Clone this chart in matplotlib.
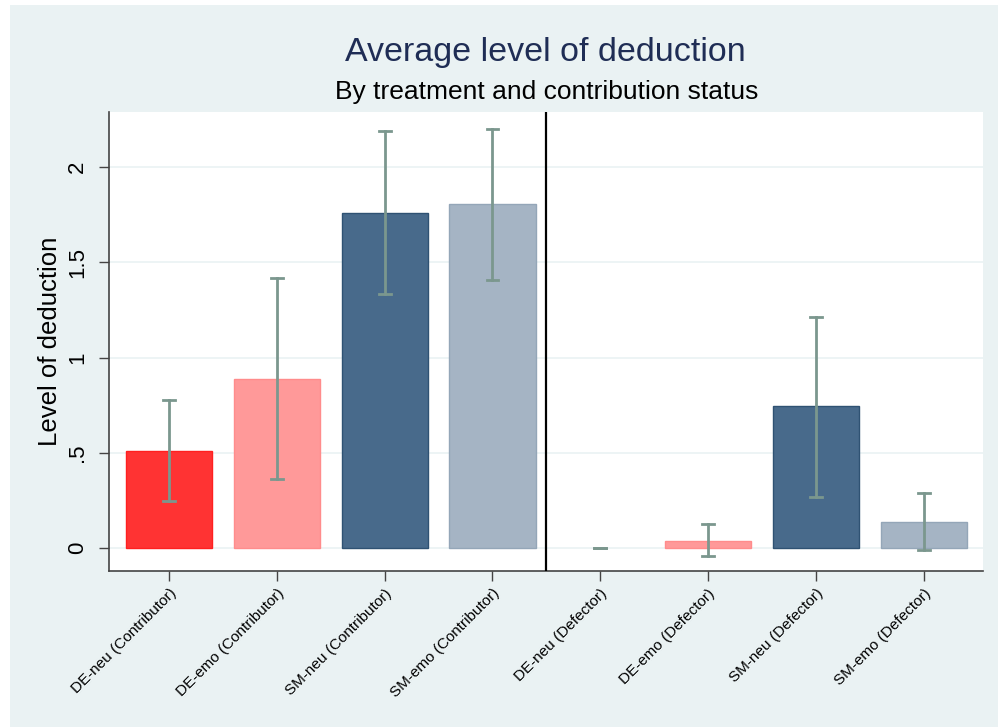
import matplotlib
matplotlib.use("Agg")
import matplotlib.pyplot as plt
from matplotlib.patches import Rectangle

plt.rcParams['font.family'] = ['Liberation Sans', 'DejaVu Sans']

labels = ['DE-neu (Contributor)', 'DE-emo (Contributor)', 'SM-neu (Contributor)', 'SM-emo (Contributor)',
          'DE-neu (Defector)', 'DE-emo (Defector)', 'SM-neu (Defector)', 'SM-emo (Defector)']
means = [0.51, 0.887, 1.76, 1.805, 0.0, 0.04, 0.745, 0.135]
ci_low = [0.248, 0.362, 1.335, 1.41, 0.0, -0.04, 0.27, -0.01]
ci_high = [0.777, 1.42, 2.19, 2.20, 0.0, 0.125, 1.215, 0.29]
face_colors = ['#FF3333', '#FF9999', '#486A8B', '#A5B4C4'] * 2
edge_colors = ['#FF2020', '#FF8C8C', '#2F5273', '#94A6B8'] * 2
yticks = [0, 0.5, 1, 1.5, 2]
ytick_labels = ['0', '.5', '1', '1.5', '2']

bg = '#EAF2F3'
fig = plt.figure(figsize=(9.98, 7.27), dpi=100, facecolor='white')
fig.patches.append(Rectangle((10 / 998, 0), 988 / 998, 722 / 727, transform=fig.transFigure,
                             facecolor=bg, edgecolor='none', zorder=-10))
ax = fig.add_axes([109 / 998, 1 - 571 / 727, (983 - 109) / 998, (571 - 112) / 727])
ax.set_facecolor('white')

x = list(range(len(labels)))
bars = ax.bar(x, means, width=0.8, color=face_colors, edgecolor=edge_colors, linewidth=1, zorder=2)
for b, m in zip(bars, means):
    if m == 0:
        b.set_linewidth(0)
for i in x:
    ax.plot([i, i], [ci_low[i], ci_high[i]], color='#7B978E', lw=2, zorder=3)
    ax.plot([i - 0.055, i + 0.055], [ci_low[i], ci_low[i]], color='#7B978E', lw=2, zorder=3)
    ax.plot([i - 0.055, i + 0.055], [ci_high[i], ci_high[i]], color='#7B978E', lw=2, zorder=3)

ax.axvline(3.5, color='black', lw=1.6, zorder=4)

ax.set_xlim(-0.557, 7.55)
ax.set_ylim(-0.12, 2.29)
ax.set_yticks(yticks)
ax.set_yticklabels(ytick_labels, rotation=90, va='center', fontsize=16)
ax.yaxis.grid(True, color=bg, lw=1.2, zorder=0)
ax.set_axisbelow(True)
ax.set_xticks(x)
ax.set_xticklabels(labels, rotation=45, ha='right', rotation_mode='anchor', fontsize=11)
ax.tick_params(axis='both', direction='out', length=7, color='#444444', width=1)
ax.tick_params(axis='x', pad=4)
ax.tick_params(axis='y', pad=8)
for s in ['top', 'right']:
    ax.spines[s].set_visible(False)
for s in ['left', 'bottom']:
    ax.spines[s].set_color('#444444')
    ax.spines[s].set_linewidth(1.2)

ax.set_ylabel('Level of deduction', fontsize=18.5, labelpad=4)
fig.text(545 / 998, 1 - 52 / 727, 'Average level of deduction', ha='center', va='center',
         fontsize=24.5, color='#1F2D55')
fig.text(547 / 998, 1 - 92 / 727, 'By treatment and contribution status', ha='center', va='center',
         fontsize=19, color='black')

fig.savefig('out.png', dpi=100, facecolor=fig.get_facecolor())
